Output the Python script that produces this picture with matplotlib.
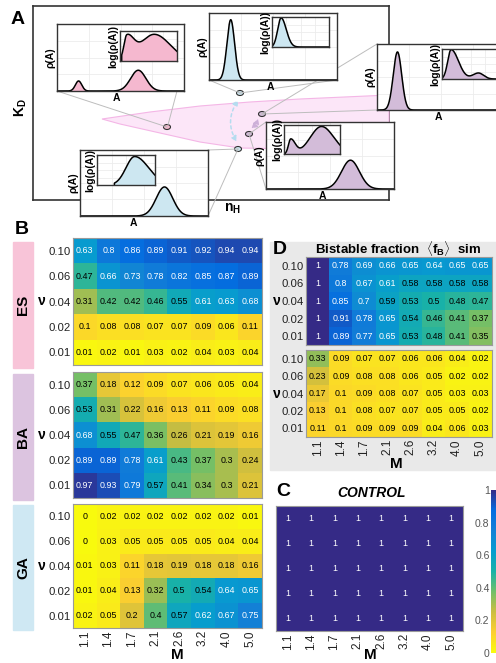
import numpy as np
import matplotlib
matplotlib.use("Agg")
import matplotlib.pyplot as plt
from matplotlib.colors import LinearSegmentedColormap
from matplotlib.patches import Rectangle, Ellipse, FancyArrowPatch, Polygon
import matplotlib as mpl

plt.rcParams['font.family'] = ['Liberation Sans', 'DejaVu Sans']
plt.rcParams['mathtext.fontset'] = 'custom'
plt.rcParams['mathtext.rm'] = 'Liberation Sans'
plt.rcParams['mathtext.bf'] = 'Liberation Sans:bold'
plt.rcParams['mathtext.it'] = 'Liberation Sans:italic'

# ---------------- data ----------------
M_labels = ['1.1', '1.4', '1.7', '2.1', '2.6', '3.2', '4.0', '5.0']
nu_labels = ['0.10', '0.06', '0.04', '0.02', '0.01']

ES = [[0.63, 0.8, 0.86, 0.89, 0.91, 0.92, 0.94, 0.94],
      [0.47, 0.66, 0.73, 0.78, 0.82, 0.85, 0.87, 0.89],
      [0.31, 0.42, 0.42, 0.46, 0.55, 0.61, 0.63, 0.68],
      [0.1, 0.08, 0.08, 0.07, 0.07, 0.09, 0.06, 0.11],
      [0.01, 0.02, 0.01, 0.03, 0.02, 0.04, 0.03, 0.04]]
BA = [[0.37, 0.18, 0.12, 0.09, 0.07, 0.06, 0.05, 0.04],
      [0.53, 0.31, 0.22, 0.16, 0.13, 0.11, 0.09, 0.08],
      [0.68, 0.55, 0.47, 0.36, 0.26, 0.21, 0.19, 0.16],
      [0.89, 0.89, 0.78, 0.61, 0.43, 0.37, 0.3, 0.24],
      [0.97, 0.93, 0.79, 0.57, 0.41, 0.34, 0.3, 0.21]]
GA = [[0, 0.02, 0.02, 0.02, 0.02, 0.02, 0.02, 0.01],
      [0, 0.03, 0.05, 0.05, 0.05, 0.05, 0.04, 0.04],
      [0.01, 0.03, 0.11, 0.18, 0.19, 0.18, 0.18, 0.16],
      [0.01, 0.04, 0.13, 0.32, 0.5, 0.54, 0.64, 0.65],
      [0.02, 0.05, 0.2, 0.4, 0.57, 0.62, 0.67, 0.75]]
D_sim = [[1, 0.78, 0.69, 0.66, 0.65, 0.64, 0.65, 0.65],
         [1, 0.8, 0.67, 0.61, 0.58, 0.58, 0.58, 0.58],
         [1, 0.85, 0.7, 0.59, 0.53, 0.5, 0.48, 0.47],
         [1, 0.91, 0.78, 0.65, 0.54, 0.46, 0.41, 0.37],
         [1, 0.89, 0.77, 0.65, 0.53, 0.48, 0.41, 0.35]]
D_ctrl = [[0.33, 0.09, 0.07, 0.07, 0.06, 0.06, 0.04, 0.02],
          [0.23, 0.09, 0.08, 0.08, 0.06, 0.05, 0.02, 0.02],
          [0.17, 0.1, 0.09, 0.08, 0.07, 0.05, 0.03, 0.03],
          [0.13, 0.1, 0.08, 0.07, 0.07, 0.05, 0.05, 0.02],
          [0.11, 0.1, 0.09, 0.09, 0.09, 0.04, 0.06, 0.03]]
CONTROL = [[1, 1, 1, 1, 1, 1, 1, 1]] * 5
cbar_ticks = [0, 0.2, 0.4, 0.6, 0.8, 1]

# schematic density shapes (center, amplitude, left width, right width)
pink_main = [(0.17, 0.15, 0.025, 0.025), (0.64, 0.31, 0.06, 0.06)]
pink_log = [(0.12, 0.76, 0.05, 0.12), (0.60, 0.89, 0.24, 0.28)]
bluetop_main = [(0.17, 0.90, 0.03, 0.03)]
bluetop_log = [(0.16, 0.97, 0.06, 0.09)]
purpR_main = [(0.16, 0.88, 0.033, 0.033)]
purpR_log = [(0.16, 0.98, 0.06, 0.13), (0.64, 0.20, 0.10, 0.09)]
purpB_main = [(0.66, 0.43, 0.07, 0.07)]
purpB_log = [(0.12, 0.50, 0.04, 0.08), (0.67, 0.95, 0.20, 0.22)]
blueB_main = [(0.66, 0.44, 0.065, 0.065)]
blueB_log = [(0.65, 0.95, 0.15, 0.24)]

# pink bistable region outline (schematic, pixel space of panel A)
band_top_x = [102, 150, 200, 250, 300, 389]
band_top_y = [119, 112, 106, 102, 99, 95]
band_bot_x = [389, 300, 240, 200, 160, 120]
band_bot_y = [150, 149, 148, 142, 133, 124]

# ---------------- figure ----------------
W, H = 496, 663
fig = plt.figure(figsize=(W / 100, H / 100), dpi=100)


def rect(x0, y0, x1, y1):
    return [x0 / W, 1 - y1 / H, (x1 - x0) / W, (y1 - y0) / H]


anchors = [(0.2081, 0.1663, 0.5292), (0.0165, 0.4266, 0.8786), (0.0779, 0.5040, 0.8384),
           (0.0265, 0.6137, 0.8135), (0.0990, 0.6982, 0.6566), (0.4420, 0.7498, 0.4100),
           (0.8000, 0.7440, 0.2500), (0.9892, 0.8136, 0.1885), (0.9763, 0.9831, 0.0538)]
parula = LinearSegmentedColormap.from_list('parula', anchors)
cmap = parula.reversed()

# gray background of panel D
fig.patches.append(Rectangle((270 / W, 1 - 470 / H), (W - 270) / W, (470 - 242) / H,
                             transform=fig.transFigure, color='#e9e9e9', zorder=-5))


def heat(box, data, xt=False, yt=True, nu=None):
    ax = fig.add_axes(rect(*box))
    ax.set_zorder(1)
    arr = np.array(data, dtype=float)
    ax.imshow(arr, cmap=cmap, vmin=0, vmax=1, aspect='auto', interpolation='nearest')
    for i in range(arr.shape[0]):
        for j in range(arr.shape[1]):
            v = arr[i, j]
            ax.text(j, i, f'{v:g}', ha='center', va='center', fontsize=6.4,
                    color='white' if v > 0.6 else 'black')
    ax.set_xticks(range(len(M_labels)))
    ax.set_yticks(range(len(nu_labels)))
    ax.set_xticklabels(M_labels if xt else [], rotation=90, fontsize=8.5)
    ax.set_yticklabels(nu_labels if yt else [], fontsize=8.2)
    ax.tick_params(length=0, pad=1.5, colors='#222222')
    for sp in ax.spines.values():
        sp.set_color('#9a9a9a')
        sp.set_linewidth(0.8)
    if nu is not None:
        fig.text(nu / W, 1 - ((box[1] + box[3]) / 2) / H, 'ν', fontsize=10, fontweight='bold',
                 ha='center', va='center')
    return ax


# ---------------- panel B ----------------
for (y0, y1, lab, col) in [(242, 368, 'ES', '#f8c4d8'), (374, 500, 'BA', '#dcc4e0'),
                           (505, 630, 'GA', '#cfe8f3')]:
    fig.patches.append(Rectangle((13 / W, 1 - y1 / H), 20 / W, (y1 - y0) / H,
                                 transform=fig.transFigure, color=col, zorder=-5))
    fig.text(23 / W, 1 - ((y0 + y1) / 2) / H, lab, rotation=90, fontsize=11, fontweight='bold',
             ha='center', va='center')

heat((73, 238, 262, 365), ES, nu=42)
heat((73, 372, 262, 498), BA, nu=42)
heat((73, 504, 262, 628), GA, xt=True, nu=42)
fig.text(177 / W, 1 - 655 / H, 'M', fontsize=11, fontweight='bold', ha='center', va='center')
fig.text(22 / W, 1 - 230 / H, 'B', fontsize=14, fontweight='bold', ha='center', va='center')

# ---------------- panel D ----------------
heat((306, 257, 492, 345), D_sim, nu=277)
heat((306, 350, 492, 437), D_ctrl, xt=True, nu=277)
fig.text(280 / W, 1 - 250 / H, 'D', fontsize=14, fontweight='bold', ha='center', va='center')
fig.text(398 / W, 1 - 249 / H, r'Bistable fraction  $\langle\mathbf{f_B}\rangle$  sim',
         fontsize=9.5, fontweight='bold', ha='center', va='center')
fig.text(396 / W, 1 - 464 / H, 'M', fontsize=11, fontweight='bold', ha='center', va='center')
fig.text(499 / W, 1 - 392 / H, 'CONTROL', rotation=270, fontsize=9, fontweight='bold',
         ha='center', va='center')

# ---------------- panel C ----------------
heat((276, 506, 463, 631), CONTROL, xt=True, yt=False)
fig.text(283 / W, 1 - 492 / H, 'C', fontsize=14, fontweight='bold', ha='center', va='center')
fig.text(372 / W, 1 - 493 / H, 'CONTROL', fontsize=10, fontweight='bold', fontstyle='italic',
         ha='center', va='center')
fig.text(370 / W, 1 - 655 / H, 'M', fontsize=11, fontweight='bold', ha='center', va='center')

cax = fig.add_axes(rect(491, 490, 500, 653))
cb = mpl.colorbar.ColorbarBase(cax, cmap=cmap, norm=mpl.colors.Normalize(0, 1), ticks=cbar_ticks)
cb.outline.set_visible(False)
cax.yaxis.set_ticks_position('left')
cax.set_yticklabels([f'{t:g}' for t in cbar_ticks])
cax.tick_params(length=0, pad=1, labelsize=7.5, colors='#555555')

# ---------------- panel A ----------------
axA = fig.add_axes(rect(33, 6, 389, 200))
axA.set_xticks([]); axA.set_yticks([])
for sp in axA.spines.values():
    sp.set_linewidth(1.2); sp.set_color('#333333')
axA.set_zorder(1)
fig.text(18 / W, 1 - 20 / H, 'A', fontsize=14, fontweight='bold', ha='center', va='center')
fig.text(21 / W, 1 - 108 / H, r'$\mathbf{K_D}$', rotation=90, fontsize=10, ha='center', va='center')
fig.text(232 / W, 1 - 209 / H, r'$\mathbf{n_H}$', fontsize=10, ha='center', va='center')

ov = fig.add_axes([0, 0, 1, 1])
ov.set_xlim(0, W); ov.set_ylim(H, 0); ov.axis('off'); ov.set_zorder(2)
band = list(zip(band_top_x, band_top_y)) + list(zip(band_bot_x, band_bot_y))
ov.add_patch(Polygon(band, closed=True, facecolor='#fce6f8', edgecolor='#f4b6e6', lw=0.8))

lines = [((57, 91), (167, 127)), ((177, 91), (168, 125)),
         ((209, 80), (240, 93)), ((337, 80), (240, 93)),
         ((377, 44), (262, 114)), ((377, 110), (262, 114)),
         ((249, 134), (266, 122)), ((249, 134), (266, 189)),
         ((208, 150), (238, 149)), ((208, 216), (238, 149))]
for p, q in lines:
    ov.plot([p[0], q[0]], [p[1], q[1]], color='#bdbdbd', lw=0.7)

ov.add_patch(FancyArrowPatch((238, 144), (240, 98), connectionstyle='arc3,rad=-0.35',
                             arrowstyle='<|-|>,head_length=3,head_width=1.6', linestyle=(0, (2, 2)),
                             color='#b5dcef', lw=1.1))
ov.add_patch(FancyArrowPatch((249, 130), (259, 116), connectionstyle='arc3,rad=0.2',
                             arrowstyle='<|-|>,head_length=3,head_width=1.6', linestyle=(0, (2, 2)),
                             color='#cdb0d8', lw=1.1))

circles = [((167, 127), '#f5b8cf'), ((240, 93), '#cde7f1'), ((262, 114), '#d3bcd9'),
           ((249, 134), '#d3bcd9'), ((238, 149), '#cde7f1')]
for (cx, cy), fc in circles:
    ov.add_patch(Ellipse((cx, cy), 7, 5, facecolor=fc, edgecolor='#333333', lw=0.8))


def bumps(x, params):
    y = np.zeros_like(x)
    for c, a, wl, wr in params:
        w = np.where(x < c, wl, wr)
        y = y + a * np.exp(-0.5 * ((x - c) / w) ** 2)
    return y


def style(ax):
    ax.set_xlim(0, 1); ax.set_ylim(0, 1)
    ax.set_xticks([0.25, 0.5, 0.75]); ax.set_yticks([0.25, 0.5, 0.75])
    ax.grid(color='#ececec', lw=0.6)
    ax.set_axisbelow(True)
    ax.tick_params(length=0, labelbottom=False, labelleft=False)
    for sp in ax.spines.values():
        sp.set_linewidth(1.0); sp.set_color('#333333')


def inset(box, logbox, fill, main, logp, x0=0.0, ax_lab_x=0.5):
    ax = fig.add_axes(rect(*box)); ax.set_zorder(3)
    x = np.linspace(0, 1, 400)
    y = bumps(x, main)
    ax.fill_between(x, 0, y, color=fill, lw=0)
    ax.plot(x, y, color='black', lw=1.1)
    style(ax)
    ax.set_ylabel('ρ(A)', fontsize=7.5, fontweight='bold', labelpad=1)
    ax.set_xlabel('A', fontsize=7.5, fontweight='bold', labelpad=1)
    ax.xaxis.set_label_coords(ax_lab_x, -0.03, transform=ax.transAxes)
    ax.xaxis.label.set_va('top')
    lax = fig.add_axes(rect(*logbox)); lax.set_zorder(4)
    xl = np.linspace(x0, 1, 300)
    yl = bumps(xl, logp)
    lax.fill_between(xl, 0, yl, color=fill, lw=0)
    lax.plot(np.r_[x0, xl], np.r_[0, yl], color='black', lw=1.1)
    style(lax)
    lax.set_facecolor('white')
    lax.set_ylabel('log(ρ(A))', fontsize=7.5, fontweight='bold', labelpad=1)


inset((57, 24, 184, 91), (120, 31, 177, 61), '#f5b8cf', pink_main, pink_log, 0.03, 0.47)
inset((209, 13, 337, 80), (272, 17, 329, 47), '#cde7f1', bluetop_main, bluetop_log, 0.0, 0.48)
inset((377, 44, 505, 110), (442, 49, 499, 79), '#d3bcd9', purpR_main, purpR_log, 0.0, 0.48)
inset((266, 122, 394, 189), (284, 125, 340, 154), '#d3bcd9', purpB_main, purpB_log, 0.02, 0.44)
inset((80, 150, 208, 216), (97, 155, 155, 185), '#cde7f1', blueB_main, blueB_log, 0.3, 0.42)

fig.savefig('out.png', dpi=100)
